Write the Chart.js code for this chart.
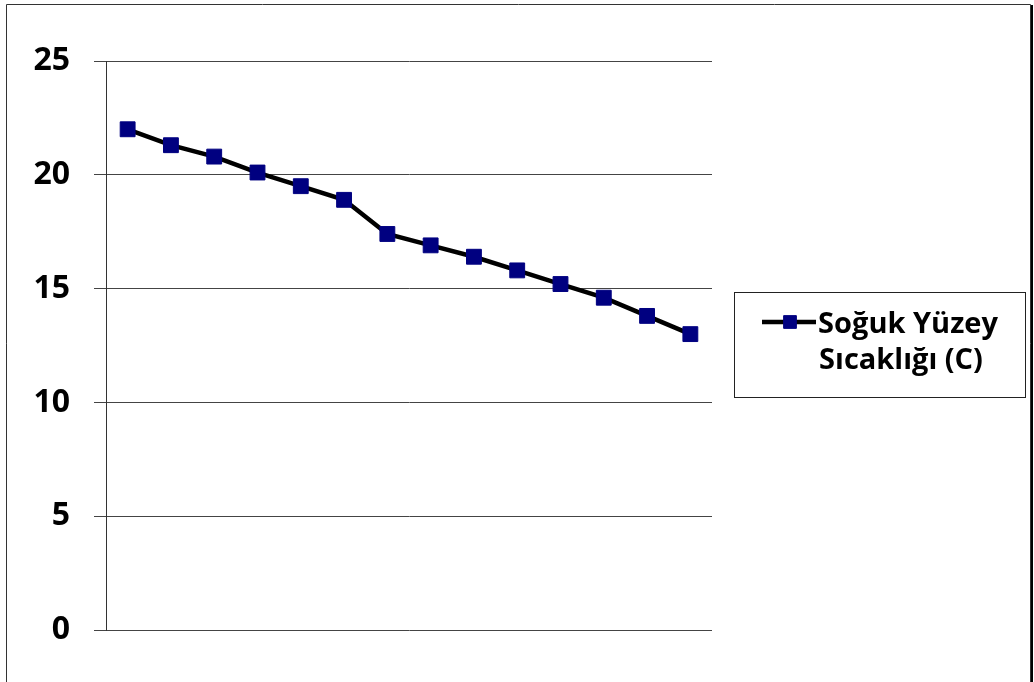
<!DOCTYPE html>
<html>
<head>
<meta charset="utf-8">
<script src="https://cdn.jsdelivr.net/npm/chart.js@4/dist/chart.umd.min.js"></script>
<style>
  html, body { margin: 0; padding: 0; background: #fff; }
  #wrap { width: 1034px; height: 682px; position: relative; }
</style>
</head>
<body>
<div id="wrap"><canvas id="c" width="1034" height="682"></canvas></div>
<script>
// Surface temperature readings, one per measurement step
const steps = ['1', '2', '3', '4', '5', '6', '7', '8', '9', '10', '11', '12', '13', '14'];
const surfaceTemp = [22.0, 21.3, 20.8, 20.1, 19.5, 18.9, 17.4, 16.9, 16.4, 15.8, 15.2, 14.6, 13.8, 13.0];
const seriesName = ['Soğuk Yüzey', 'Sıcaklığı (C)'];
const yTicks = [0, 5, 10, 15, 20, 25];

const FONT = '"Open Sans", Lato, sans-serif';

// Outer frame around the whole figure
const framePlugin = {
  id: 'frame',
  beforeDraw(chart) {
    const ctx = chart.ctx;
    ctx.save();
    ctx.fillStyle = '#fff';
    ctx.fillRect(0, 0, chart.width, chart.height);
    ctx.strokeStyle = '#333';
    ctx.lineWidth = 1;
    ctx.beginPath();
    ctx.moveTo(6.5, 700);
    ctx.lineTo(6.5, 4.5);
    ctx.lineTo(1030.5, 4.5);
    ctx.lineTo(1030.5, 700);
    ctx.stroke();
    ctx.strokeStyle = '#000';
    ctx.lineWidth = 2;
    ctx.beginPath();
    ctx.moveTo(1032, 5);
    ctx.lineTo(1032, 700);
    ctx.stroke();
    ctx.restore();
  }
};

// Boxed legend to the right of the plot
const boxLegendPlugin = {
  id: 'boxLegend',
  afterDraw(chart) {
    const ctx = chart.ctx;
    const ds = chart.data.datasets[0];
    ctx.save();
    ctx.strokeStyle = '#222';
    ctx.lineWidth = 1;
    ctx.strokeRect(734.5, 292.5, 291, 105);

    const ly = 322;
    ctx.strokeStyle = ds.borderColor;
    ctx.lineWidth = ds.borderWidth;
    ctx.beginPath();
    ctx.moveTo(762, ly);
    ctx.lineTo(816, ly);
    ctx.stroke();

    ctx.fillStyle = ds.pointBackgroundColor;
    ctx.strokeStyle = ds.pointBorderColor;
    ctx.lineWidth = ds.pointBorderWidth;
    Chart.helpers.drawPoint(ctx, {
      pointStyle: ds.pointStyle,
      radius: 9,
      borderWidth: ds.pointBorderWidth,
      rotation: 0
    }, 790, ly);

    ctx.fillStyle = '#000';
    ctx.font = 'bold 29px ' + FONT;
    ctx.textAlign = 'center';
    ctx.textBaseline = 'alphabetic';
    ctx.fillText(seriesName[0], 908, 333);
    ctx.fillText(seriesName[1], 901, 369);
    ctx.restore();
  }
};

new Chart(document.getElementById('c'), {
  type: 'line',
  data: {
    labels: steps,
    datasets: [{
      label: seriesName.join(' '),
      data: surfaceTemp,
      borderColor: '#000',
      borderWidth: 4.5,
      pointStyle: 'rect',
      pointRadius: 10.5,
      pointHoverRadius: 10.5,
      pointBackgroundColor: '#000080',
      pointBorderColor: '#000080',
      pointBorderWidth: 1,
      tension: 0,
      fill: false
    }]
  },
  options: {
    responsive: false,
    animation: false,
    devicePixelRatio: 1,
    layout: { padding: { left: 0, top: 61, right: 322, bottom: 52 } },
    plugins: {
      legend: { display: false },
      tooltip: { enabled: false }
    },
    scales: {
      x: {
        type: 'category',
        offset: true,
        display: false,
        grid: { display: false }
      },
      y: {
        min: 0,
        max: 25,
        afterFit(scale) { scale.width = 106; },
        afterBuildTicks(scale) { scale.ticks = yTicks.map(v => ({ value: v })); },
        border: { display: true, color: '#333', width: 1 },
        grid: {
          color: '#444',
          lineWidth: 1,
          drawTicks: true,
          tickLength: 12
        },
        ticks: {
          color: '#000',
          padding: 24,
          font: { family: FONT, size: 32, weight: 'bold' }
        }
      }
    }
  },
  plugins: [framePlugin, boxLegendPlugin]
});
</script>
</body>
</html>
